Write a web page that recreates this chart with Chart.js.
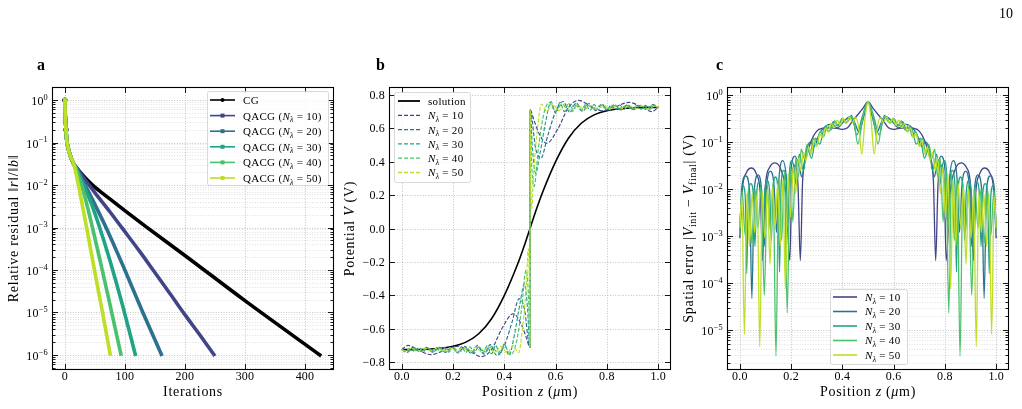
<!DOCTYPE html>
<html>
<head>
<meta charset="utf-8">
<script src="https://cdn.jsdelivr.net/npm/chart.js@4.4.0/dist/chart.umd.min.js"></script>
<style>
  body { margin: 0; background: #fff; width: 1022px; height: 409px; overflow: hidden; position: relative; }
  .pnl { position: absolute; top: 0; height: 409px; }
  #pa { left: 0; width: 340px; }
  #pb { left: 340px; width: 340px; }
  #pc { left: 680px; width: 342px; }
</style>
</head>
<body>
<div class="pnl" id="pa"><canvas id="ca"></canvas></div>
<div class="pnl" id="pb"><canvas id="cb"></canvas></div>
<div class="pnl" id="pc"><canvas id="cc"></canvas></div>
<script>
// ---------- panel a : residual vs iterations ----------
const itCG  = [0, 1, 2, 3, 5, 10, 15, 20, 30, 40, 50, 75, 100, 135, 200, 300, 427];
const resCG = [1, 0.34, 0.2, 0.12, 0.08, 0.045, 0.031, 0.0251, 0.017, 0.012, 8.9e-3, 4.7e-3, 2.5e-3, 1.05e-3, 2.2e-4, 1.9e-5, 9.5e-7];
const it10  = [0, 1, 2, 3, 5, 10, 15, 20, 30, 50, 75, 96, 125, 150, 175, 200, 225, 250];
const res10 = [1, 0.34, 0.2, 0.12, 0.08, 0.045, 0.031, 0.0251, 0.0158, 6.6e-3, 2.35e-3, 9.5e-4, 2.7e-4, 8.7e-5, 2.8e-5, 8.9e-6, 2.95e-6, 9.5e-7];
const it20  = [0, 1, 2, 3, 5, 10, 15, 20, 30, 50, 70, 100, 130, 162];
const res20 = [1, 0.34, 0.2, 0.12, 0.08, 0.045, 0.031, 0.024, 0.0126, 3.5e-3, 9.1e-4, 1.0e-4, 1.0e-5, 9.5e-7];
const it30  = [0, 1, 2, 3, 5, 10, 15, 20, 30, 45, 58, 75, 95, 118];
const res30 = [1, 0.34, 0.2, 0.12, 0.08, 0.045, 0.031, 0.0229, 0.011, 3.4e-3, 1.0e-3, 1.7e-4, 1.7e-5, 9.5e-7];
const it40  = [0, 1, 2, 3, 5, 10, 15, 20, 30, 46, 60, 75, 94];
const res40 = [1, 0.34, 0.2, 0.12, 0.08, 0.045, 0.031, 0.0209, 7.9e-3, 1.0e-3, 1.4e-4, 1.6e-5, 9.5e-7];
const it50  = [0, 1, 2, 3, 5, 10, 15, 20, 25, 36, 50, 65, 76];
const res50 = [1, 0.34, 0.2, 0.12, 0.08, 0.045, 0.031, 0.0151, 6.8e-3, 1.05e-3, 8.9e-5, 6.8e-6, 9.5e-7];

// ---------- panel b : potential profiles [z, V] ----------
const solution = [[0, -0.725], [0.05, -0.725], [0.1, -0.723], [0.15, -0.717], [0.2, -0.705], [0.25, -0.68],
  [0.3, -0.63], [0.35, -0.54], [0.4, -0.40], [0.45, -0.22], [0.475, -0.115], [0.5, 0], [0.525, 0.115],
  [0.55, 0.22], [0.6, 0.40], [0.65, 0.54], [0.7, 0.63], [0.75, 0.68], [0.8, 0.705], [0.85, 0.717],
  [0.9, 0.723], [0.95, 0.725], [1, 0.725]];
const pot10 = [[0, -0.725], [0.024, -0.70], [0.068, -0.73], [0.114, -0.755], [0.165, -0.73], [0.22, -0.705],
  [0.265, -0.735], [0.31, -0.767], [0.35, -0.725], [0.39, -0.60], [0.435, -0.51], [0.465, -0.57], [0.485, -0.65],
  [0.4995, -0.71], [0.5005, 0.71], [0.515, 0.65], [0.535, 0.57], [0.565, 0.51], [0.61, 0.60], [0.65, 0.725],
  [0.69, 0.767], [0.735, 0.735], [0.78, 0.705], [0.835, 0.73], [0.886, 0.755], [0.932, 0.73], [0.976, 0.70], [1, 0.725]];
const pot20 = [[0, -0.725], [0.02, -0.742], [0.045, -0.712], [0.07, -0.738], [0.095, -0.712], [0.12, -0.74],
  [0.145, -0.71], [0.17, -0.742], [0.195, -0.708], [0.22, -0.745], [0.245, -0.706], [0.27, -0.748], [0.295, -0.70],
  [0.32, -0.752], [0.345, -0.695], [0.37, -0.76], [0.40, -0.70], [0.43, -0.56], [0.458, -0.42], [0.478, -0.48],
  [0.4995, -0.71], [0.5005, 0.71], [0.522, 0.48], [0.542, 0.42], [0.57, 0.56], [0.60, 0.70], [0.63, 0.76],
  [0.655, 0.695], [0.68, 0.752], [0.705, 0.70], [0.73, 0.748], [0.755, 0.706], [0.78, 0.745], [0.805, 0.708],
  [0.83, 0.742], [0.855, 0.71], [0.88, 0.74], [0.905, 0.712], [0.93, 0.738], [0.955, 0.712], [0.98, 0.742], [1, 0.725]];
const pot30 = [[0, -0.725], [0.016, -0.737], [0.033, -0.714], [0.05, -0.737], [0.066, -0.714], [0.083, -0.738],
  [0.1, -0.713], [0.116, -0.738], [0.133, -0.713], [0.15, -0.739], [0.166, -0.712], [0.183, -0.74], [0.2, -0.711],
  [0.216, -0.741], [0.233, -0.71], [0.25, -0.742], [0.266, -0.708], [0.283, -0.744], [0.3, -0.706], [0.316, -0.746],
  [0.333, -0.703], [0.35, -0.75], [0.366, -0.70], [0.383, -0.755], [0.40, -0.69], [0.418, -0.76], [0.44, -0.63],
  [0.462, -0.44], [0.478, -0.33], [0.49, -0.47], [0.4995, -0.71], [0.5005, 0.71], [0.51, 0.47], [0.522, 0.33],
  [0.538, 0.44], [0.56, 0.63], [0.582, 0.76], [0.60, 0.69], [0.617, 0.755], [0.634, 0.70], [0.65, 0.75],
  [0.667, 0.703], [0.684, 0.746], [0.70, 0.706], [0.717, 0.744], [0.734, 0.708], [0.75, 0.742], [0.767, 0.71],
  [0.784, 0.741], [0.80, 0.711], [0.817, 0.74], [0.834, 0.712], [0.85, 0.739], [0.867, 0.713], [0.884, 0.738],
  [0.90, 0.713], [0.917, 0.738], [0.934, 0.714], [0.95, 0.737], [0.967, 0.714], [0.984, 0.737], [1, 0.725]];
const pot40 = [[0, -0.725], [0.025, -0.735], [0.05, -0.716], [0.075, -0.735], [0.1, -0.716], [0.125, -0.736],
  [0.15, -0.716], [0.175, -0.737], [0.2, -0.714], [0.225, -0.738], [0.25, -0.713], [0.275, -0.74], [0.3, -0.71],
  [0.325, -0.742], [0.35, -0.707], [0.375, -0.745], [0.40, -0.70], [0.425, -0.755], [0.447, -0.68], [0.468, -0.47],
  [0.484, -0.25], [0.4945, -0.42], [0.4995, -0.71], [0.5005, 0.71], [0.5055, 0.42], [0.516, 0.25], [0.532, 0.47],
  [0.553, 0.68], [0.575, 0.755], [0.60, 0.70], [0.625, 0.745], [0.65, 0.707], [0.675, 0.742], [0.70, 0.71],
  [0.725, 0.74], [0.75, 0.713], [0.775, 0.738], [0.80, 0.714], [0.825, 0.737], [0.85, 0.716], [0.875, 0.736],
  [0.90, 0.716], [0.925, 0.735], [0.95, 0.716], [0.975, 0.735], [1, 0.725]];
const pot50 = [[0, -0.725], [0.0125, -0.733], [0.0375, -0.717], [0.0625, -0.734], [0.0875, -0.716], [0.1125, -0.734],
  [0.1375, -0.716], [0.1625, -0.735], [0.1875, -0.715], [0.2125, -0.736], [0.2375, -0.714], [0.2625, -0.737],
  [0.2875, -0.712], [0.3125, -0.739], [0.3375, -0.71], [0.3625, -0.742], [0.3875, -0.706], [0.4125, -0.746],
  [0.435, -0.70], [0.455, -0.745], [0.472, -0.58], [0.487, -0.3], [0.493, -0.12], [0.4975, -0.35], [0.4995, -0.71],
  [0.5005, 0.71], [0.5025, 0.35], [0.507, 0.12], [0.513, 0.3], [0.528, 0.58], [0.545, 0.745], [0.565, 0.70],
  [0.5875, 0.746], [0.6125, 0.706], [0.6375, 0.742], [0.6625, 0.71], [0.6875, 0.739], [0.7125, 0.712],
  [0.7375, 0.737], [0.7625, 0.714], [0.7875, 0.736], [0.8125, 0.715], [0.8375, 0.735], [0.8625, 0.716],
  [0.8875, 0.734], [0.9125, 0.716], [0.9375, 0.734], [0.9625, 0.717], [0.9875, 0.733], [1, 0.725]];

// ---------- panel c : spatial error [z, |dV|] ----------
const err10 = [[0, 9e-4], [0.010, 1.0e-2], [0.025, 2.2e-2], [0.046, 2.8e-2], [0.066, 2.0e-2], [0.080, 8e-3],
  [0.089, 3e-4], [0.100, 1.2e-2], [0.115, 2.8e-2], [0.137, 3.6e-2], [0.160, 2.6e-2], [0.180, 8e-3], [0.195, 3e-4],
  [0.203, 1.5e-2], [0.215, 3.2e-2], [0.227, 1.2e-2], [0.236, 3e-4], [0.245, 1.5e-2], [0.260, 5e-2], [0.280, 1.1e-1],
  [0.300, 1.7e-1], [0.320, 1.95e-1], [0.350, 2.0e-1], [0.380, 1.95e-1], [0.400, 1.85e-1], [0.420, 2.0e-1],
  [0.440, 2.8e-1], [0.460, 3.8e-1], [0.480, 5.2e-1], [0.500, 7.2e-1], [0.520, 5.2e-1], [0.540, 3.8e-1],
  [0.560, 2.8e-1], [0.580, 2.0e-1], [0.600, 1.85e-1], [0.620, 1.95e-1], [0.650, 2.0e-1], [0.680, 1.95e-1],
  [0.700, 1.7e-1], [0.720, 1.1e-1], [0.740, 5e-2], [0.755, 1.5e-2], [0.764, 3e-4], [0.773, 1.2e-2], [0.785, 3.2e-2],
  [0.797, 1.5e-2], [0.805, 3e-4], [0.820, 8e-3], [0.840, 2.6e-2], [0.863, 3.6e-2], [0.885, 2.8e-2], [0.900, 1.2e-2],
  [0.911, 3e-4], [0.920, 8e-3], [0.934, 2.0e-2], [0.954, 2.8e-2], [0.975, 2.2e-2], [0.990, 1.0e-2], [1, 9e-4]];
const err20 = [[0, 1.3e-3], [0.008, 1.1e-2], [0.023, 1.9e-2], [0.038, 9e-3], [0.047, 4.7e-5], [0.056, 9e-3],
  [0.071, 2.0e-2], [0.086, 8e-3], [0.095, 6e-4], [0.104, 1.0e-2], [0.119, 2.4e-2], [0.134, 1.1e-2], [0.143, 1.2e-3],
  [0.152, 1.5e-2], [0.167, 4.0e-2], [0.182, 1.6e-2], [0.190, 2.0e-3], [0.198, 2.0e-2], [0.215, 5.0e-2],
  [0.232, 3.0e-2], [0.242, 1.8e-2], [0.258, 6.0e-2], [0.275, 1.0e-1], [0.290, 8.0e-2], [0.310, 1.5e-1],
  [0.335, 2.2e-1], [0.360, 2.4e-1], [0.380, 2.0e-1], [0.405, 2.7e-1], [0.428, 3.4e-1], [0.448, 2.6e-1],
  [0.465, 1.6e-1], [0.482, 3.2e-1], [0.500, 7.2e-1], [0.518, 3.2e-1], [0.535, 1.6e-1], [0.552, 2.6e-1],
  [0.572, 3.4e-1], [0.595, 2.7e-1], [0.620, 2.0e-1], [0.640, 2.4e-1], [0.665, 2.2e-1], [0.690, 1.5e-1],
  [0.710, 8.0e-2], [0.725, 1.0e-1], [0.742, 6.0e-2], [0.758, 1.8e-2], [0.768, 3.0e-2], [0.785, 5.0e-2],
  [0.802, 2.0e-2], [0.810, 2.0e-3], [0.818, 1.6e-2], [0.833, 4.0e-2], [0.848, 1.5e-2], [0.857, 1.2e-3],
  [0.866, 1.1e-2], [0.881, 2.4e-2], [0.896, 1.0e-2], [0.905, 6e-4], [0.914, 8e-3], [0.929, 2.0e-2], [0.944, 9e-3],
  [0.953, 4.7e-5], [0.962, 9e-3], [0.977, 1.9e-2], [0.992, 1.1e-2], [1, 1.3e-3]];
const err30 = [[0, 1.5e-3], [0.011, 1.2e-2], [0.021, 7e-3], [0.027, 1.6e-4], [0.033, 7e-3], [0.043, 1.3e-2],
  [0.053, 7e-3], [0.059, 6e-4], [0.065, 7e-3], [0.075, 1.4e-2], [0.085, 7e-3], [0.091, 1.2e-3], [0.097, 8e-3],
  [0.107, 1.5e-2], [0.117, 8e-3], [0.123, 8e-4], [0.129, 9e-3], [0.139, 1.8e-2], [0.149, 9e-3], [0.155, 1.7e-4],
  [0.161, 1.2e-2], [0.171, 2.5e-2], [0.181, 1.3e-2], [0.187, 1.5e-3], [0.193, 2.0e-2], [0.203, 4.0e-2],
  [0.213, 2.5e-2], [0.219, 1.2e-2], [0.232, 5.5e-2], [0.248, 2.5e-2], [0.263, 7.5e-2], [0.280, 4.5e-2],
  [0.296, 1.2e-1], [0.312, 9.0e-2], [0.330, 2.0e-1], [0.347, 1.7e-1], [0.365, 2.7e-1], [0.382, 2.2e-1],
  [0.400, 3.1e-1], [0.417, 2.6e-1], [0.436, 3.7e-1], [0.456, 1.4e-1], [0.478, 3.5e-1], [0.500, 7.2e-1],
  [0.522, 3.5e-1], [0.544, 1.4e-1], [0.564, 3.7e-1], [0.583, 2.6e-1], [0.600, 3.1e-1], [0.618, 2.2e-1],
  [0.635, 2.7e-1], [0.653, 1.7e-1], [0.670, 2.0e-1], [0.688, 9.0e-2], [0.704, 1.2e-1], [0.720, 4.5e-2],
  [0.737, 7.5e-2], [0.752, 2.5e-2], [0.768, 5.5e-2], [0.781, 1.2e-2], [0.787, 2.5e-2], [0.797, 4.0e-2],
  [0.807, 2.0e-2], [0.813, 1.5e-3], [0.819, 1.3e-2], [0.829, 2.5e-2], [0.839, 1.2e-2], [0.845, 1.7e-4],
  [0.851, 9e-3], [0.861, 1.8e-2], [0.871, 9e-3], [0.877, 8e-4], [0.883, 8e-3], [0.893, 1.5e-2], [0.903, 8e-3],
  [0.909, 1.2e-3], [0.915, 7e-3], [0.925, 1.4e-2], [0.935, 7e-3], [0.941, 6e-4], [0.947, 7e-3], [0.957, 1.3e-2],
  [0.967, 7e-3], [0.973, 1.6e-4], [0.979, 7e-3], [0.989, 1.2e-2], [1, 1.5e-3]];
const err40 = [[0, 1.2e-3], [0.009, 9e-3], [0.021, 1.0e-3], [0.034, 1.0e-2], [0.047, 7e-4], [0.059, 1.0e-2],
  [0.071, 1.5e-3], [0.083, 1.1e-2], [0.0956, 5.5e-5], [0.107, 1.2e-2], [0.119, 1.3e-3], [0.130, 1.4e-2],
  [0.141, 2.8e-6], [0.152, 1.7e-2], [0.163, 8e-4], [0.174, 2.2e-2], [0.185, 2.3e-5], [0.196, 3.0e-2],
  [0.207, 2.0e-3], [0.218, 4.5e-2], [0.228, 1.8e-2], [0.240, 7e-2], [0.251, 4.5e-2], [0.263, 9e-2], [0.275, 6e-2],
  [0.288, 1.2e-1], [0.300, 8.5e-2], [0.314, 1.7e-1], [0.327, 1.3e-1], [0.341, 2.3e-1], [0.355, 1.8e-1],
  [0.370, 2.8e-1], [0.384, 2.3e-1], [0.400, 3.2e-1], [0.414, 2.5e-1], [0.430, 3.5e-1], [0.446, 2.7e-1],
  [0.460, 9e-2], [0.482, 3.8e-1], [0.500, 7.2e-1], [0.518, 3.8e-1], [0.540, 9e-2], [0.554, 2.7e-1],
  [0.570, 3.5e-1], [0.586, 2.5e-1], [0.600, 3.2e-1], [0.616, 2.3e-1], [0.630, 2.8e-1], [0.645, 1.8e-1],
  [0.659, 2.3e-1], [0.673, 1.3e-1], [0.686, 1.7e-1], [0.700, 8.5e-2], [0.712, 1.2e-1], [0.725, 6e-2],
  [0.737, 9e-2], [0.749, 4.5e-2], [0.760, 7e-2], [0.772, 1.8e-2], [0.782, 4.5e-2], [0.793, 2.0e-3], [0.804, 3.0e-2],
  [0.815, 2.3e-5], [0.826, 2.2e-2], [0.837, 8e-4], [0.848, 1.7e-2], [0.859, 2.8e-6], [0.870, 1.4e-2],
  [0.881, 1.3e-3], [0.893, 1.2e-2], [0.9044, 5.5e-5], [0.917, 1.1e-2], [0.929, 1.5e-3], [0.941, 1.0e-2],
  [0.953, 7e-4], [0.966, 1.0e-2], [0.979, 1.0e-3], [0.991, 9e-3], [1, 1.2e-3]];
const err50 = [[0, 1.5e-3], [0.0078, 7e-3], [0.0178, 8e-6], [0.0278, 8e-3], [0.0378, 6e-4], [0.0478, 8e-3],
  [0.0578, 1.2e-3], [0.0678, 8.5e-3], [0.0778, 4.4e-6], [0.0878, 9e-3], [0.0978, 9e-4], [0.1078, 1.0e-2],
  [0.1178, 2.5e-4], [0.1278, 1.1e-2], [0.1378, 1.5e-3], [0.1478, 1.3e-2], [0.1578, 6e-4], [0.1678, 1.6e-2],
  [0.1778, 7.5e-5], [0.1878, 2.1e-2], [0.1978, 2.5e-3], [0.2078, 2.9e-2], [0.2178, 8e-3], [0.2278, 4.5e-2],
  [0.238, 2.5e-2], [0.248, 6e-2], [0.258, 4e-2], [0.268, 8e-2], [0.278, 5.5e-2], [0.290, 1.05e-1], [0.300, 8e-2],
  [0.312, 1.5e-1], [0.322, 1.2e-1], [0.334, 2.0e-1], [0.345, 1.6e-1], [0.357, 2.5e-1], [0.368, 2.0e-1],
  [0.380, 2.9e-1], [0.392, 2.3e-1], [0.404, 3.2e-1], [0.416, 2.5e-1], [0.428, 3.4e-1], [0.440, 2.6e-1],
  [0.452, 3.3e-1], [0.464, 2.0e-1], [0.476, 5.5e-2], [0.488, 3.0e-1], [0.500, 7.2e-1], [0.512, 3.0e-1],
  [0.524, 5.5e-2], [0.536, 2.0e-1], [0.548, 3.3e-1], [0.560, 2.6e-1], [0.572, 3.4e-1], [0.584, 2.5e-1],
  [0.596, 3.2e-1], [0.608, 2.3e-1], [0.620, 2.9e-1], [0.632, 2.0e-1], [0.643, 2.5e-1], [0.655, 1.6e-1],
  [0.666, 2.0e-1], [0.678, 1.2e-1], [0.688, 1.5e-1], [0.700, 8e-2], [0.710, 1.05e-1], [0.722, 5.5e-2], [0.732, 8e-2],
  [0.742, 4e-2], [0.752, 6e-2], [0.762, 2.5e-2], [0.7722, 4.5e-2], [0.7822, 8e-3], [0.7922, 2.9e-2], [0.8022, 2.5e-3],
  [0.8122, 2.1e-2], [0.8222, 7.5e-5], [0.8322, 1.6e-2], [0.8422, 6e-4], [0.8522, 1.3e-2], [0.8622, 1.5e-3],
  [0.8722, 1.1e-2], [0.8822, 2.5e-4], [0.8922, 1.0e-2], [0.9022, 9e-4], [0.9122, 9e-3], [0.9222, 4.4e-6],
  [0.9322, 8.5e-3], [0.9422, 1.2e-3], [0.9522, 8e-3], [0.9622, 6e-4], [0.9722, 8e-3], [0.9822, 8e-6],
  [0.9922, 7e-3], [1, 1.5e-3]];

// tick labels
const itTicks = [0, 100, 200, 300, 400];
const zTicks = [0, 0.2, 0.4, 0.6, 0.8, 1.0];
const zLabels = ['0.0', '0.2', '0.4', '0.6', '0.8', '1.0'];
const vTicks = [-0.8, -0.6, -0.4, -0.2, 0, 0.2, 0.4, 0.6, 0.8];
const vLabels = ['\u22120.8', '\u22120.6', '\u22120.4', '\u22120.2', '0.0', '0.2', '0.4', '0.6', '0.8'];
const Nlam = [10, 20, 30, 40, 50];
const colors = ['#414487', '#2c728e', '#21a386', '#4ac16d', '#bddf26'];

const SERIF = '"Liberation Serif", "Times New Roman", serif';

function setFont(ctx, size, style) {
  ctx.font = (style ? style + ' ' : '') + size + 'px ' + SERIF;
}

// parts: [text, kind]  kind: r roman, i italic, sub italic subscript, subr roman subscript, sup superscript
function drawParts(ctx, parts, x, y, size, align, spacing) {
  spacing = spacing || 0;
  const L = parts.map(([t, k]) => {
    const small = k === 'sub' || k === 'subr' || k === 'sup';
    const s = small ? size * 0.7 : size;
    const st = (k === 'i' || k === 'sub') ? 'italic' : '';
    const dy = k === 'sup' ? -size * 0.42 : (small ? size * 0.24 : 0);
    setFont(ctx, s, st);
    ctx.letterSpacing = spacing + 'px';
    return { t, s, st, dy, w: ctx.measureText(t).width };
  });
  const total = L.reduce((a, p) => a + p.w, 0);
  let cx = align === 'center' ? x - total / 2 : align === 'right' ? x - total : x;
  ctx.textAlign = 'left';
  ctx.textBaseline = 'alphabetic';
  L.forEach(p => {
    setFont(ctx, p.s, p.st);
    ctx.letterSpacing = spacing + 'px';
    ctx.fillText(p.t, cx, y + p.dy);
    cx += p.w;
  });
  ctx.letterSpacing = '0px';
}

function minorLog(lo, hi) {
  const out = [];
  for (let e = Math.floor(lo) - 1; e <= Math.ceil(hi); e++) {
    for (let k = 2; k <= 9; k++) {
      const v = k * Math.pow(10, e);
      if (Math.log10(v) > lo && Math.log10(v) < hi) out.push(v);
    }
  }
  return out;
}

const lamParts = n => [['N', 'i'], ['\u03bb', 'sub'], [' = ' + n, 'r']];

const PANELS = {
  ca: {
    xTicks: itTicks, xLabels: itTicks.map(String), yLog: true, yDec: [-6, -5, -4, -3, -2, -1, 0],
    yLo: -6.353, yHi: 0.306,
    xTitle: [['Iterations', 'r']],
    yTitle: [['Relative residual \u2016', 'r'], ['r', 'i'], ['\u2016/\u2016', 'r'], ['b', 'i'], ['\u2016', 'r']],
    yTitleX: 18, label: 'a', labelX: 37,
    legend: { x: 207, y: 91, w: 121, h: 94, y0: 100, dy: 15.6, l0: 210, l1: 235, tx: 243, lw: 1.6,
      rows: [{ c: '#000', m: 'circle', p: [['CG', 'r']] }].concat(Nlam.map((n, i) => ({
        c: colors[i], m: 'rect', p: [['QACG (', 'r'], ['N', 'i'], ['\u03bb', 'sub'], [' = ' + n + ')', 'r']] }))) }
  },
  cb: {
    xTicks: zTicks, xLabels: zLabels, yTicks: vTicks, yLabels: vLabels, yLog: false, yGrid: true,
    xTitle: [['Position ', 'r'], ['z', 'i'], [' (', 'r'], ['\u03bc', 'i'], ['m)', 'r']],
    yTitle: [['Potential ', 'r'], ['V', 'i'], [' (V)', 'r']],
    yTitleX: 14, label: 'b', labelX: 36,
    legend: { x: 54, y: 92, w: 76, h: 90, y0: 101, dy: 14.3, l0: 58, l1: 80, tx: 88, lw: 1.3,
      rows: [{ c: '#000', p: [['solution', 'r']], lw: 1.8 }].concat(Nlam.map((n, i) => ({
        c: colors[i], dash: [4, 2], p: lamParts(n) }))) }
  },
  cc: {
    xTicks: zTicks, xLabels: zLabels, yLog: true, yDec: [-5, -4, -3, -2, -1, 0],
    yLo: -5.851, yHi: 0.170,
    xTitle: [['Position ', 'r'], ['z', 'i'], [' (', 'r'], ['\u03bc', 'i'], ['m)', 'r']],
    yTitle: [['Spatial error |', 'r'], ['V', 'i'], ['init', 'subr'], [' \u2212 ', 'r'], ['V', 'i'], ['final', 'subr'], ['| (V)', 'r']],
    yTitleX: 13, label: 'c', labelX: 36, page: '10',
    legend: { x: 150, y: 289, w: 77, h: 75, y0: 297, dy: 14.5, l0: 153, l1: 177, tx: 185, lw: 1.6,
      rows: Nlam.map((n, i) => ({ c: colors[i], p: lamParts(n) })) }
  }
};

const sciPlugin = {
  id: 'sci',
  beforeDatasetsDraw(chart) {
    const o = PANELS[chart.canvas.id];
    const { ctx, chartArea: ca } = chart;
    const xs = chart.scales.x, ys = chart.scales.y;
    ctx.save();
    ctx.lineWidth = 0.8;
    ctx.setLineDash([1, 1.6]);
    const hline = py => { ctx.beginPath(); ctx.moveTo(ca.left, py); ctx.lineTo(ca.right, py); ctx.stroke(); };
    const vline = px => { ctx.beginPath(); ctx.moveTo(px, ca.top); ctx.lineTo(px, ca.bottom); ctx.stroke(); };
    if (o.yLog) {
      ctx.strokeStyle = '#d9d9d9';
      minorLog(o.yLo, o.yHi).forEach(v => hline(Math.round(ys.getPixelForValue(v)) + 0.5));
      ctx.strokeStyle = '#b5b5b5';
      o.yDec.forEach(e => hline(Math.round(ys.getPixelForValue(Math.pow(10, e))) + 0.5));
    } else {
      ctx.strokeStyle = '#b5b5b5';
      o.yTicks.forEach(v => hline(Math.round(ys.getPixelForValue(v)) + 0.5));
    }
    o.xTicks.forEach(v => vline(Math.round(xs.getPixelForValue(v)) + 0.5));
    ctx.restore();
  },
  afterDatasetsDraw(chart) {
    const o = PANELS[chart.canvas.id];
    const { ctx, chartArea: ca } = chart;
    const xs = chart.scales.x, ys = chart.scales.y;
    ctx.save();
    ctx.fillStyle = '#000';
    ctx.strokeStyle = '#000';
    ctx.lineWidth = 0.9;
    // tick marks (inward, all four sides)
    const tick = (px, len, horiz) => {
      ctx.beginPath();
      if (horiz) {
        ctx.moveTo(px, ca.bottom); ctx.lineTo(px, ca.bottom - len);
        ctx.moveTo(px, ca.top); ctx.lineTo(px, ca.top + len);
      } else {
        ctx.moveTo(ca.left, px); ctx.lineTo(ca.left + len, px);
        ctx.moveTo(ca.right, px); ctx.lineTo(ca.right - len, px);
      }
      ctx.stroke();
    };
    o.xTicks.forEach(v => tick(Math.round(xs.getPixelForValue(v)) + 0.5, 6, true));
    if (o.yLog) {
      minorLog(o.yLo, o.yHi).forEach(v => tick(Math.round(ys.getPixelForValue(v)) + 0.5, 3.5, false));
      o.yDec.forEach(e => tick(Math.round(ys.getPixelForValue(Math.pow(10, e))) + 0.5, 6, false));
    } else {
      o.yTicks.forEach(v => tick(Math.round(ys.getPixelForValue(v)) + 0.5, 6, false));
    }
    ctx.lineWidth = 1.1;
    ctx.strokeRect(ca.left + 0.5, ca.top + 0.5, ca.right - ca.left - 1, ca.bottom - ca.top - 1);

    // tick labels
    const fs = 12;
    o.xTicks.forEach((v, i) => drawParts(ctx, [[o.xLabels[i], 'r']], xs.getPixelForValue(v), ca.bottom + 10, fs, 'center', 0.2));
    if (o.yLog) {
      o.yDec.forEach(e => {
        const py = ys.getPixelForValue(Math.pow(10, e));
        drawParts(ctx, [['10', 'r'], [e < 0 ? '\u2212' + (-e) : String(e), 'sup']], ca.left - 4, py + 5, fs, 'right', 0.2);
      });
    } else {
      o.yTicks.forEach((v, i) => drawParts(ctx, [[o.yLabels[i], 'r']], ca.left - 4, ys.getPixelForValue(v) + 4, fs, 'right', 0.2));
    }

    // axis titles
    drawParts(ctx, o.xTitle, (ca.left + ca.right) / 2, 396, 14, 'center', 0.7);
    ctx.save();
    ctx.translate(o.yTitleX, (ca.top + ca.bottom) / 2);
    ctx.rotate(-Math.PI / 2);
    drawParts(ctx, o.yTitle, 0, 0, 14, 'center', 0.7);
    ctx.restore();

    // panel letter and page number
    setFont(ctx, 16, 'bold');
    ctx.textAlign = 'left';
    ctx.fillText(o.label, o.labelX, 70);
    if (o.page) {
      setFont(ctx, 14, '');
      ctx.textAlign = 'right';
      ctx.fillText(o.page, 333, 18);
    }

    // legend
    const g = o.legend;
    ctx.fillStyle = 'rgba(255,255,255,0.8)';
    ctx.strokeStyle = '#cfcfcf';
    ctx.lineWidth = 0.8;
    ctx.beginPath();
    ctx.roundRect(g.x + 0.5, g.y + 0.5, g.w, g.h, 2);
    ctx.fill();
    ctx.stroke();
    g.rows.forEach((r, i) => {
      const ry = g.y0 + i * g.dy;
      ctx.strokeStyle = r.c;
      ctx.lineWidth = r.lw || g.lw;
      ctx.setLineDash(r.dash || []);
      ctx.beginPath();
      ctx.moveTo(g.l0, ry);
      ctx.lineTo(g.l1, ry);
      ctx.stroke();
      ctx.setLineDash([]);
      if (r.m) {
        ctx.fillStyle = r.c;
        const mx = (g.l0 + g.l1) / 2;
        ctx.beginPath();
        if (r.m === 'circle') ctx.arc(mx, ry, 2, 0, Math.PI * 2);
        else ctx.rect(mx - 2, ry - 2, 4, 4);
        ctx.fill();
      }
      ctx.fillStyle = '#000';
      drawParts(ctx, r.p, g.tx, ry + 3.9, 11, 'left', 0.3);
    });
    ctx.restore();
  }
};

const pts = (xs, ys) => xs.map((x, i) => ({ x, y: ys[i] }));
const pairs = arr => arr.map(([x, y]) => ({ x, y }));

function baseOptions(pad, xr, yr, yType) {
  return {
    responsive: true, maintainAspectRatio: false, animation: false,
    layout: { padding: pad },
    plugins: { legend: { display: false }, tooltip: { enabled: false } },
    elements: { point: { radius: 0 }, line: { cubicInterpolationMode: 'monotone' } },
    scales: {
      x: { type: 'linear', display: false, min: xr[0], max: xr[1], bounds: 'data' },
      y: { type: yType, display: false, min: yr[0], max: yr[1], bounds: 'data' }
    }
  };
}

// panel a
const aSeries = [[itCG, resCG], [it10, res10], [it20, res20], [it30, res30], [it40, res40], [it50, res50]];
new Chart(document.getElementById('ca'), {
  type: 'line',
  data: {
    datasets: aSeries.map(([xs, ys], i) => ({
      data: pts(xs, ys),
      borderColor: i === 0 ? '#000' : colors[i - 1],
      backgroundColor: i === 0 ? '#000' : colors[i - 1],
      borderWidth: 3.6,
      pointStyle: i === 0 ? 'circle' : 'rect',
      pointRadius: c => (c.dataIndex < 3 ? 2.6 : 0),
      pointBorderWidth: 0,
      order: 6 - i
    }))
  },
  options: baseOptions({ left: 52, right: 6, top: 87, bottom: 39 }, [-21.35, 448.35], [Math.pow(10, -6.353), Math.pow(10, 0.306)], 'logarithmic'),
  plugins: [sciPlugin]
});

// panel b
const bSeries = [pot10, pot20, pot30, pot40, pot50];
new Chart(document.getElementById('cb'), {
  type: 'line',
  data: {
    datasets: [{ data: pairs(solution), borderColor: '#000', borderWidth: 1.6, order: 6 }].concat(
      bSeries.map((s, i) => ({
        data: pairs(s), borderColor: colors[i], borderWidth: 1.15, borderDash: [4, 1.8], order: 5 - i
      })))
  },
  options: baseOptions({ left: 49, right: 9, top: 87, bottom: 39 }, [-0.05, 1.05], [-0.847, 0.847], 'linear'),
  plugins: [sciPlugin]
});

// panel c
const cSeries = [err10, err20, err30, err40, err50];
new Chart(document.getElementById('cc'), {
  type: 'line',
  data: {
    datasets: cSeries.map((s, i) => ({
      data: pairs(s), borderColor: colors[i], borderWidth: 1.3, order: 5 - i
    }))
  },
  options: baseOptions({ left: 47, right: 13, top: 87, bottom: 39 }, [-0.05, 1.05], [Math.pow(10, -5.851), Math.pow(10, 0.170)], 'logarithmic'),
  plugins: [sciPlugin]
});
</script>
</body>
</html>
